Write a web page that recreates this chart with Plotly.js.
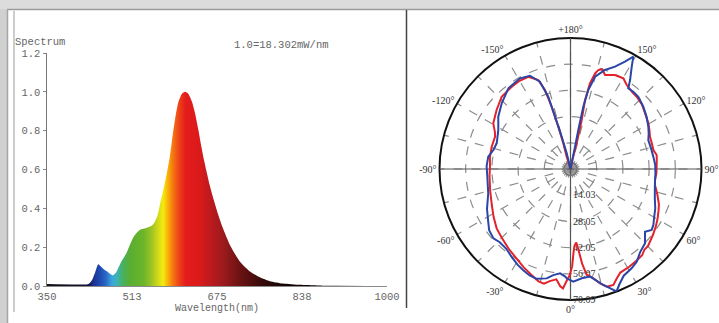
<!DOCTYPE html>
<html><head><meta charset="utf-8">
<script src="https://cdn.plot.ly/plotly-3.0.1.min.js"></script>
<style>html,body{margin:0;padding:0;background:#fff;}#chart{width:719px;height:323px;}</style>
</head><body><div id="chart"></div>
<script>
// ---- Spectrum data ----
const wavelength = [350,400,425,430,436,442,448,453,459,465,471,476,482,491,502,509,515,522,528,541,550,556,561,566,572,579,585,591,596,601,608,614,620,627,633,639,645,650,655,661,667,677,686,700,719,738,757,776,801,834,866,900,1000];
const intensity  = [0.01,0.008,0.008,0.012,0.03,0.07,0.112,0.10,0.085,0.075,0.062,0.055,0.07,0.12,0.17,0.215,0.25,0.275,0.29,0.30,0.31,0.33,0.36,0.42,0.49,0.58,0.67,0.79,0.88,0.945,0.99,1.0,0.99,0.95,0.89,0.81,0.72,0.65,0.59,0.52,0.46,0.37,0.30,0.21,0.125,0.075,0.045,0.025,0.013,0.006,0.003,0.001,0];
const gradWl     = [350,428,438,450,462,474,484,495,510,535,550,562,572,580,590,602,615,640,660,690,720,760,800,1000];
const gradColors = ['#111111','#111133','#1c2e8c','#1f48b0','#2a66c4','#3aa4de','#3cb4b4','#48b060','#5aae30','#6cb52a','#9cc424','#d0d818','#f4ec10','#f8b808','#f47a10','#ee4418','#e41c1c','#dc1a1a','#c01a1e','#981a1c','#6a1212','#380a0a','#150505','#000000'];
const xTickVals = [350,512.5,675,837.5,1000];
const xTickText = ['350','513','675','838','1000'];
const yTickVals = [0,0.2,0.4,0.6,0.8,1.0,1.2];

// ---- Polar (light distribution) data ----
const redTheta = [-165,-162.8,-164.3,-163.9,-163.2,-162.1,-160.1,-155.4,-150,-144.5,-136.4,-128.6,-120.6,-116,-113.2,-105.8,-98.7,-92,-85,-75,-65.4,-58,-51.2,-45,-38.1,-31,-25.4,-20,-15.9,-13,-10.5,-7.3,-5,-3.6,-2,-0.5,1,2,3,4.5,5.5,7,8.6,11.8,14.5,17.1,20.3,23,25.7,31,35.3,39.7,42.6,45.1,51.3,56.2,60.7,65,68.1,73.5,79.3,82.6,87,91.5,96,99.2,102.9,107,112.1,116,120.4,126.8,132,137.5,141.6,146.2,149.8,154.7,159.8,162.5,164.3,165.6,167.2,168.1,167.1,166.4,168,175];
const redR     = [0,6.9,14.3,23.5,34.8,44.4,50.6,54.3,54.5,54.1,53.4,50.6,48,45,43.9,43.8,43.6,43.1,43.5,44.5,46.3,48.5,50.7,52,53.9,56,58.3,60.5,62.5,63,61,59.5,63,64,60,57,52,45,41,39.5,43,51,57,59.7,63.2,65.9,66.1,63.5,61.5,61,60.5,60,58.5,58.5,56.5,55,53.5,52,51,48.5,46,45.6,46,46.1,46.4,46.7,45.5,45.6,45.9,47,48.3,49.8,51.5,52.4,52.8,54.1,56.2,55.6,53.6,56,55,52.9,47,37.7,26.9,14.1,5,0];
const blueTheta = [-168,-166.4,-164.8,-163.5,-162.9,-160.7,-156.5,-150.9,-142.4,-133.7,-125.9,-118.4,-109.2,-103.8,-98.5,-92,-84.7,-73.5,-64.5,-58,-53,-48,-44,-38.8,-34,-29,-25,-21,-17.2,-12.3,-9.2,-5.7,-3,-2,1.4,5.9,10.3,15.8,20.6,23,26.5,31.6,35.5,40,45.1,49.9,53.1,56,59.2,65.1,70.7,76,81.5,87,92.7,98.5,104,110.4,114,118.5,124.5,130.6,136.8,140.9,144.4,146.2,149.1,150.8,153.1,156.5,160.8,165.1,167.3,168.4,168.7,168.6,170];
const blueR     = [0,8.6,17.9,29.2,40.5,49.5,54.4,55.5,54.5,50.9,47.7,43.9,41.8,42.5,44.5,44.9,44.7,45.9,49.5,52,54.5,55.5,54.5,54.8,56.5,58.5,59.8,61,61.5,59.9,57.5,56.1,57.5,58.5,60.3,58.8,58.5,64.5,70,67,63.8,62.4,61,58,56.3,52.1,54.3,53.5,52,50,47.8,46.5,45.7,45.5,45.4,44.8,44.5,44.4,45.8,47.4,49.4,51.3,53,53.3,53.1,57.3,63.8,68.9,64.4,59.7,56.1,51.1,43.3,34,21.3,12.2,0];
const angTickVals = [0,15,30,45,60,75,90,105,120,135,150,165,180,195,210,225,240,255,270,285,300,315,330,345];
const angTickText = ['0°','','30°','','60°','','90°','','120°','','150°','','+180°','','-150°','','-120°','','-90°','','-60°','','-30°',''];
const radTickVals = [14.018,28.036,42.054,56.072,70.09];
const radTickText = ['14.03','28.05','42.05','56.07','70.09'];

const W = 719, H = 323;
const px = x => x / W;
const py = y => 1 - y / H;

const colorscale = gradWl.map((w, i) => [(w - 350) / 650, gradColors[i]]);

const mono = 'Liberation Mono, DejaVu Sans Mono, monospace';
const serif = 'Liberation Serif, DejaVu Serif, serif';

const traces = [
  {
    type: 'scatter', mode: 'lines', x: wavelength, y: intensity,
    line: {width: 0, shape: 'spline', smoothing: 0.6, color: 'rgba(0,0,0,0)'},
    fill: 'tozeroy',
    fillgradient: {type: 'horizontal', colorscale: colorscale, start: 350, stop: 1000},
    hoverinfo: 'skip', showlegend: false
  },
  {type: 'scatterpolar', subplot: 'polar', r: [], theta: [], showlegend: false},
  {
    type: 'scatterpolar', subplot: 'polar2', r: redR, theta: redTheta, mode: 'lines',
    line: {color: '#e3222c', width: 2}, showlegend: false
  },
  {
    type: 'scatterpolar', subplot: 'polar2', r: blueR, theta: blueTheta, mode: 'lines',
    line: {color: '#2a45a6', width: 2}, showlegend: false
  }
];

const polarDomain = {x: [px(439.5), px(701.5)], y: [py(300), py(38)]};

const layout = {
  width: W, height: H,
  margin: {l: 0, r: 0, t: 0, b: 0},
  paper_bgcolor: '#ffffff', plot_bgcolor: '#ffffff',
  showlegend: false,
  xaxis: {
    domain: [px(47), px(387)], range: [350, 1000],
    tickvals: xTickVals, ticktext: xTickText, ticks: '',
    showline: true, linecolor: '#8a8a8a', linewidth: 1.2,
    showgrid: false, zeroline: false,
    tickfont: {family: mono, size: 10.5, color: '#666666'},
    title: {text: 'Wavelength(nm)', font: {family: mono, size: 10, color: '#666'}, standoff: 2}
  },
  yaxis: {
    domain: [py(286), py(53)], range: [0, 1.2],
    tickvals: yTickVals, tickformat: '.1f', ticks: 'outside', ticklen: 3, tickcolor: '#888',
    showline: true, linecolor: '#777', linewidth: 1.5,
    showgrid: false, zeroline: false,
    tickfont: {family: mono, size: 10.5, color: '#666'}
  },
  polar: {
    domain: polarDomain, bgcolor: '#ffffff',
    angularaxis: {
      rotation: -90, direction: 'counterclockwise',
      tickvals: angTickVals, ticktext: angTickText, ticks: '',
      showgrid: true, gridcolor: '#8c8c8c', griddash: 'dash', gridwidth: 1.2,
      showline: true, linecolor: '#111', linewidth: 2,
      tickfont: {family: serif, size: 10, color: '#333'}
    },
    radialaxis: {
      range: [0, 70.09], angle: -90, tickangle: -90, side: 'counterclockwise',
      tickvals: radTickVals, ticktext: radTickText, ticks: '',
      showline: true, linecolor: '#666', linewidth: 1,
      showgrid: true, gridcolor: '#8c8c8c', griddash: 'dash', gridwidth: 1.2,
      tickfont: {family: serif, size: 10, color: '#333'}
    }
  },
  polar2: {
    domain: polarDomain, bgcolor: 'rgba(0,0,0,0)',
    angularaxis: {
      rotation: -90, direction: 'counterclockwise',
      tickvals: [0, 90, 180, 270], showticklabels: false, ticks: '',
      showgrid: true, gridcolor: '#555', gridwidth: 1.2, showline: false
    },
    radialaxis: {
      range: [0, 70.09], tickvals: [3.5], showticklabels: false, ticks: '',
      showline: false, showgrid: true, gridcolor: '#777', gridwidth: 1.5
    }
  },
  annotations: [
    {xref: 'paper', yref: 'paper', x: px(13), y: py(42), xanchor: 'left', yanchor: 'middle',
     text: 'Spectrum', showarrow: false, font: {family: mono, size: 10.5, color: '#666'}},
    {xref: 'paper', yref: 'paper', x: px(232), y: py(45), xanchor: 'left', yanchor: 'middle',
     text: '1.0=18.302mW/nm', showarrow: false, font: {family: mono, size: 10.5, color: '#666'}}
  ],
  shapes: [
    {type: 'rect', xref: 'paper', yref: 'paper', x0: 0, x1: 1, y0: py(9), y1: 1, fillcolor: '#dcdcdc', line: {width: 0}, layer: 'below'},
    {type: 'line', xref: 'paper', yref: 'paper', x0: px(7), x1: 1, y0: py(9.5), y1: py(9.5), line: {color: '#9a9a9a', width: 1.5}},
    {type: 'rect', xref: 'paper', yref: 'paper', x0: 0, x1: px(7), y0: 0, y1: py(9), fillcolor: '#d0d0d0', line: {width: 0}, layer: 'below'},
    {type: 'line', xref: 'paper', yref: 'paper', x0: px(7.5), x1: px(7.5), y0: 0, y1: py(9.5), line: {color: '#a5a5a5', width: 1.5}},
    {type: 'line', xref: 'paper', yref: 'paper', x0: px(14), x1: px(14), y0: py(312), y1: py(11), line: {color: '#9a9a9a', width: 1}},
    {type: 'line', xref: 'paper', yref: 'paper', x0: px(406.5), x1: px(406.5), y0: py(308), y1: py(10), line: {color: '#444', width: 1.5}}
  ]
};

Plotly.newPlot('chart', traces, layout, {displayModeBar: false, staticPlot: true});
</script></body></html>
